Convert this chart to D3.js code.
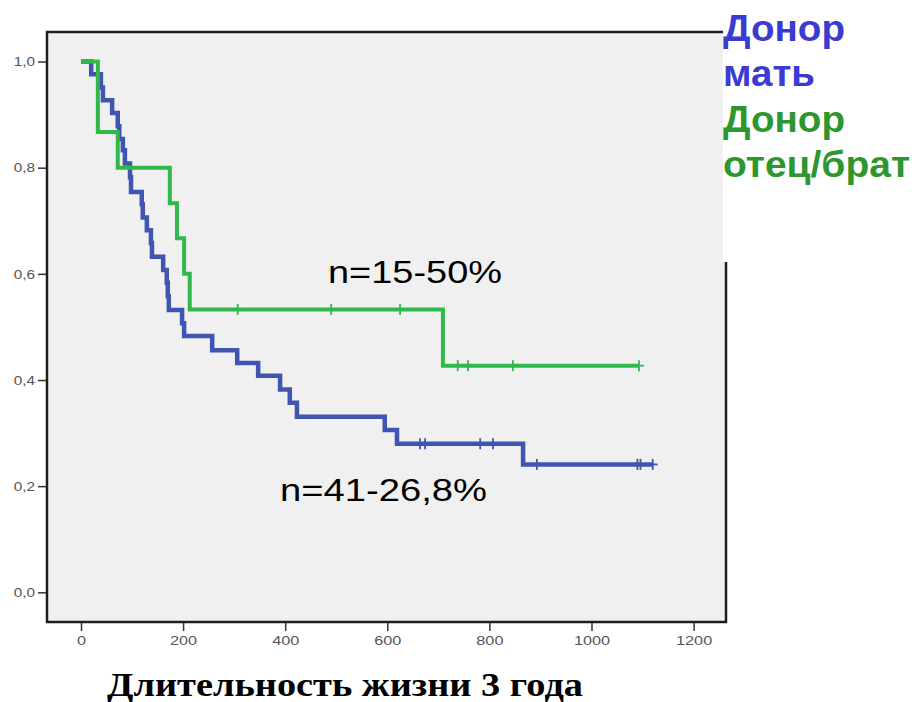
<!DOCTYPE html>
<html>
<head>
<meta charset="utf-8">
<script src="https://cdn.jsdelivr.net/npm/d3@7"></script>
<style>
  html, body { margin: 0; padding: 0; background: #ffffff; }
  svg { display: block; }
</style>
</head>
<body>
<svg id="chart" width="915" height="702"></svg>
<script>
// ---- Data ----
// Blue group: donor = mother (n=41)
const blueTimes  = [20, 39, 43, 61, 72, 75, 82, 86, 96, 98, 119, 121, 129, 137, 139, 161, 168, 170, 172, 198, 202, 257, 306, 347, 390, 409, 423, 595, 619, 866];
const blueSurv   = [0.976, 0.951, 0.927, 0.903, 0.878, 0.854, 0.833, 0.808, 0.782, 0.754, 0.731, 0.706, 0.682, 0.658, 0.632, 0.607, 0.583, 0.558, 0.532, 0.507, 0.483, 0.456, 0.432, 0.408, 0.382, 0.357, 0.331, 0.306, 0.280, 0.241];
const blueCensor = [664, 674, 782, 807, 893, 1090, 1096, 1120];

// Green group: donor = father/brother (n=15)
const greenTimes  = [33, 72, 174, 188, 202, 213, 709];
const greenSurv   = [0.867, 0.800, 0.733, 0.667, 0.600, 0.533, 0.427];
const greenCensor = [307, 490, 625, 738, 758, 846, 1093];

const xTicks = [0, 200, 400, 600, 800, 1000, 1200];
const yTicks = [0.0, 0.2, 0.4, 0.6, 0.8, 1.0];

const legendLines = ["Донор", "мать", "Донор", "отец/брат"];
const annotations = ["n=15-50%", "n=41-26,8%"];
const xTitle = "Длительность жизни 3 года";

// ---- Layout ----
const svg = d3.select("#chart");
const plot = { left: 47, right: 726, top: 32, bottom: 622 };

const x = d3.scaleLinear().domain([-66.6, 1263.5]).range([plot.left, plot.right]);
const y = d3.scaleLinear().domain([-0.0559, 1.0556]).range([plot.bottom, plot.top]);

const BLUE = "#3f55b0";
const GREEN = "#30b84a";

function stretch(sel, factor) {
  sel.each(function () {
    const w = this.getComputedTextLength();
    d3.select(this).attr("textLength", w * factor).attr("lengthAdjust", "spacingAndGlyphs");
  });
}
function fitWidth(sel, width) {
  sel.attr("textLength", width).attr("lengthAdjust", "spacingAndGlyphs");
}

// Plot background
svg.append("rect")
  .attr("x", plot.left).attr("y", plot.top)
  .attr("width", plot.right - plot.left).attr("height", plot.bottom - plot.top)
  .attr("fill", "#f0f0f0");

// Axes
const fmt = d => d3.format(".1f")(d).replace(".", ",");
const yAxis = svg.append("g")
  .attr("transform", `translate(${plot.left},0)`)
  .call(d3.axisLeft(y).tickValues(yTicks).tickFormat(fmt).tickSizeInner(9).tickSizeOuter(0).tickPadding(3));
const xAxis = svg.append("g")
  .attr("transform", `translate(0,${plot.bottom})`)
  .call(d3.axisBottom(x).tickValues(xTicks).tickFormat(d3.format("d")).tickSizeInner(9).tickSizeOuter(0).tickPadding(5));

[yAxis, xAxis].forEach(ax => {
  ax.select(".domain").remove();
  ax.selectAll(".tick line").attr("stroke", "#333").attr("stroke-width", 1.5);
  ax.selectAll(".tick text")
    .attr("fill", "#555")
    .style("font-family", "'Liberation Sans', Arial, sans-serif")
    .style("font-size", "13px");
});
stretch(yAxis.selectAll(".tick text"), 1.18);
stretch(xAxis.selectAll(".tick text"), 1.25);

// Survival curves
function stepPoints(times, surv, censor) {
  const end = Math.max(times[times.length - 1], d3.max(censor));
  const pts = [[0, 1]];
  times.forEach((t, i) => pts.push([t, surv[i]]));
  pts.push([end, surv[surv.length - 1]]);
  return pts;
}
function survAt(times, surv, t) {
  let s = 1;
  times.forEach((tt, i) => { if (tt <= t) s = surv[i]; });
  return s;
}
const line = d3.line().x(d => x(d[0])).y(d => y(d[1])).curve(d3.curveStepAfter);

function drawGroup(times, surv, censor, color, width) {
  const g = svg.append("g");
  g.append("path")
    .datum(stepPoints(times, surv, censor))
    .attr("d", line)
    .attr("fill", "none")
    .attr("stroke", color)
    .attr("stroke-width", width)
    .attr("stroke-linejoin", "miter");
  const marks = g.selectAll("g.cens").data(censor).join("g")
    .attr("transform", d => `translate(${x(d)},${y(survAt(times, surv, d))})`);
  marks.append("line").attr("x1", 0).attr("x2", 0).attr("y1", -5.5).attr("y2", 5.5)
    .attr("stroke", color).attr("stroke-width", 1.8);
  marks.append("line").attr("x1", -5).attr("x2", 5).attr("y1", 0).attr("y2", 0)
    .attr("stroke", color).attr("stroke-width", 1.8);
}
drawGroup(blueTimes, blueSurv, blueCensor, BLUE, 4.5);
drawGroup(greenTimes, greenSurv, greenCensor, GREEN, 4);

// Frame
svg.append("rect")
  .attr("x", plot.left).attr("y", plot.top)
  .attr("width", plot.right - plot.left).attr("height", plot.bottom - plot.top)
  .attr("fill", "none").attr("stroke", "#1e1e1e").attr("stroke-width", 2.5);

// White legend box pasted over the top-right corner
svg.append("rect")
  .attr("x", 723).attr("y", 0).attr("width", 915 - 723).attr("height", 262)
  .attr("fill", "#ffffff");

// Legend text
const legendColors = ["#3b3bd2", "#3b3bd2", "#2e962e", "#2e962e"];
const legendBase = [41, 86, 132, 177];
const legendW = [122, 92, 122, 187];
svg.append("g").selectAll("text").data(legendLines).join("text")
  .attr("x", 723).attr("y", (d, i) => legendBase[i])
  .attr("fill", (d, i) => legendColors[i])
  .style("font-family", "'Liberation Sans', Arial, sans-serif")
  .style("font-weight", "bold")
  .style("font-size", "37px")
  .text(d => d)
  .each(function (d, i) { fitWidth(d3.select(this), legendW[i]); });

// Annotations
const annX = [328, 280], annY = [283, 501], annW = [174, 207];
svg.append("g").selectAll("text").data(annotations).join("text")
  .attr("x", (d, i) => annX[i]).attr("y", (d, i) => annY[i])
  .attr("fill", "#000")
  .style("font-family", "'Liberation Sans', Arial, sans-serif")
  .style("font-size", "32px")
  .text(d => d)
  .each(function (d, i) { fitWidth(d3.select(this), annW[i]); });

// X axis title
svg.append("text")
  .attr("x", 107).attr("y", 696)
  .attr("fill", "#000")
  .style("font-family", "'Liberation Serif', 'Times New Roman', serif")
  .style("font-weight", "bold")
  .style("font-size", "34px")
  .text(xTitle)
  .call(sel => fitWidth(sel, 476));
</script>
</body>
</html>
